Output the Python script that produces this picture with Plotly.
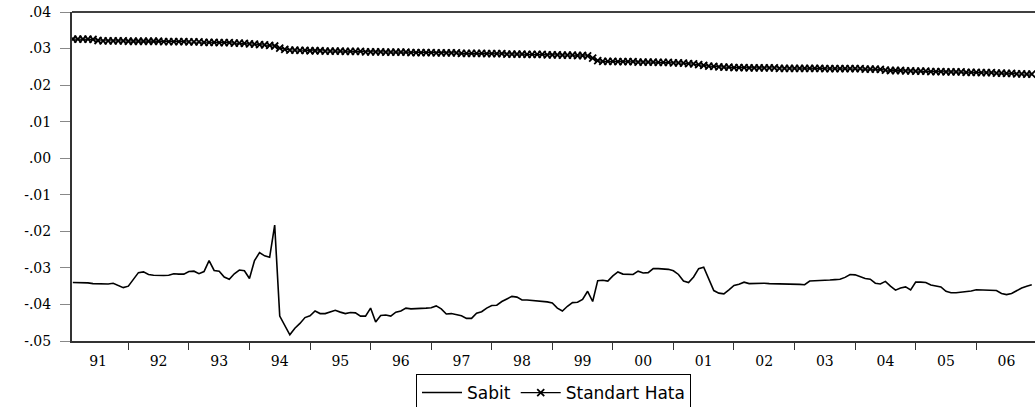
import plotly.graph_objects as go

# ---- data (monthly, 1991M2 - 2006M12) ----
years = list(range(1991, 2007))
first_month_1991 = 2

sabit_by_year = {
    1991: [-0.0340, -0.0340, -0.0340, -0.0341, -0.0343, -0.0344, -0.0345, -0.0344, -0.0342, -0.0347, -0.0354],
    1992: [-0.0350, -0.0330, -0.0313, -0.0311, -0.0318, -0.0320, -0.0321, -0.0321, -0.0320, -0.0316, -0.0317, -0.0317],
    1993: [-0.0310, -0.0309, -0.0316, -0.0310, -0.0280, -0.0307, -0.0309, -0.0325, -0.0331, -0.0316, -0.0306, -0.0308],
    1994: [-0.0329, -0.0280, -0.0258, -0.0267, -0.0271, -0.0183, -0.0432, -0.0458, -0.0483, -0.0465, -0.0452, -0.0436],
    1995: [-0.0431, -0.0418, -0.0425, -0.0425, -0.0420, -0.0416, -0.0421, -0.0425, -0.0422, -0.0423, -0.0432, -0.0432],
    1996: [-0.0410, -0.0448, -0.0430, -0.0429, -0.0432, -0.0421, -0.0418, -0.0410, -0.0412, -0.0412, -0.0412, -0.0410],
    1997: [-0.0409, -0.0404, -0.0412, -0.0426, -0.0425, -0.0428, -0.0431, -0.0438, -0.0438, -0.0424, -0.0420, -0.0410],
    1998: [-0.0403, -0.0402, -0.0392, -0.0385, -0.0378, -0.0380, -0.0388, -0.0388, -0.0389, -0.0390, -0.0391, -0.0393],
    1999: [-0.0396, -0.0410, -0.0418, -0.0405, -0.0395, -0.0394, -0.0386, -0.0364, -0.0392, -0.0335, -0.0334, -0.0336],
    2000: [-0.0322, -0.0311, -0.0317, -0.0318, -0.0318, -0.0309, -0.0314, -0.0313, -0.0302, -0.0302, -0.0302, -0.0304],
    2001: [-0.0308, -0.0318, -0.0336, -0.0340, -0.0325, -0.0302, -0.0298, -0.0330, -0.0362, -0.0369, -0.0371, -0.0360],
    2002: [-0.0348, -0.0345, -0.0339, -0.0343, -0.0342, -0.0343, -0.0342, -0.0343, -0.0343, -0.0343, -0.0343, -0.0343],
    2003: [-0.0343, -0.0345, -0.0346, -0.0336, -0.0335, -0.0335, -0.0334, -0.0333, -0.0332, -0.0331, -0.0326, -0.0318],
    2004: [-0.0319, -0.0325, -0.0329, -0.0331, -0.0342, -0.0344, -0.0337, -0.0350, -0.0361, -0.0355, -0.0352, -0.0360],
    2005: [-0.0339, -0.0339, -0.0340, -0.0347, -0.0349, -0.0352, -0.0364, -0.0368, -0.0368, -0.0367, -0.0364, -0.0363],
    2006: [-0.0360, -0.0361, -0.0361, -0.0361, -0.0362, -0.0370, -0.0373, -0.0370, -0.0362, -0.0355, -0.0350, -0.0346],
}

std_hata_by_year = {
    1991: [0.0326, 0.0326, 0.0326, 0.0326, 0.0325, 0.0322, 0.0321, 0.0321, 0.0321, 0.0321, 0.0321],
    1992: [0.0320, 0.0320, 0.0320, 0.0320, 0.0320, 0.0320, 0.0320, 0.0319, 0.0319, 0.0319, 0.0319, 0.0319],
    1993: [0.0318, 0.0318, 0.0318, 0.0317, 0.0317, 0.0317, 0.0316, 0.0316, 0.0316, 0.0315, 0.0315, 0.0314],
    1994: [0.0313, 0.0312, 0.0311, 0.0310, 0.0309, 0.0307, 0.0301, 0.0298, 0.0296, 0.0296, 0.0295, 0.0295],
    1995: [0.0294, 0.0294, 0.0294, 0.0293, 0.0293, 0.0293, 0.0293, 0.0292, 0.0292, 0.0292, 0.0292, 0.0291],
    1996: [0.0291, 0.0291, 0.0291, 0.0290, 0.0290, 0.0290, 0.0290, 0.0290, 0.0289, 0.0289, 0.0289, 0.0289],
    1997: [0.0289, 0.0288, 0.0288, 0.0288, 0.0288, 0.0288, 0.0287, 0.0287, 0.0287, 0.0287, 0.0287, 0.0286],
    1998: [0.0286, 0.0286, 0.0286, 0.0285, 0.0285, 0.0285, 0.0285, 0.0284, 0.0284, 0.0284, 0.0284, 0.0283],
    1999: [0.0283, 0.0283, 0.0282, 0.0282, 0.0282, 0.0281, 0.0281, 0.0280, 0.0274, 0.0267, 0.0265, 0.0265],
    2000: [0.0265, 0.0264, 0.0264, 0.0264, 0.0264, 0.0263, 0.0263, 0.0263, 0.0263, 0.0262, 0.0262, 0.0262],
    2001: [0.0261, 0.0261, 0.0260, 0.0259, 0.0258, 0.0256, 0.0254, 0.0252, 0.0251, 0.0250, 0.0249, 0.0249],
    2002: [0.0248, 0.0248, 0.0248, 0.0247, 0.0247, 0.0247, 0.0247, 0.0247, 0.0247, 0.0246, 0.0246, 0.0246],
    2003: [0.0246, 0.0246, 0.0246, 0.0246, 0.0246, 0.0246, 0.0245, 0.0245, 0.0245, 0.0245, 0.0245, 0.0245],
    2004: [0.0245, 0.0245, 0.0244, 0.0244, 0.0244, 0.0243, 0.0241, 0.0240, 0.0240, 0.0240, 0.0239, 0.0239],
    2005: [0.0238, 0.0238, 0.0238, 0.0237, 0.0237, 0.0237, 0.0236, 0.0236, 0.0236, 0.0236, 0.0235, 0.0235],
    2006: [0.0235, 0.0234, 0.0234, 0.0234, 0.0233, 0.0233, 0.0232, 0.0232, 0.0231, 0.0231, 0.0230, 0.0230],
}

year_labels = ["91", "92", "93", "94", "95", "96", "97", "98", "99", "00", "01", "02", "03", "04", "05", "06"]
y_tick_vals = [0.04, 0.03, 0.02, 0.01, 0.00, -0.01, -0.02, -0.03, -0.04, -0.05]
y_tick_text = [".04", ".03", ".02", ".01", ".00", "-.01", "-.02", "-.03", "-.04", "-.05"]

# ---- build time axis (decimal years) ----
t, sabit, std_hata = [], [], []
for yr in years:
    start = first_month_1991 if yr == 1991 else 1
    for i, (s, h) in enumerate(zip(sabit_by_year[yr], std_hata_by_year[yr])):
        m = start + i
        t.append(yr + (m - 1) / 12.0)
        sabit.append(s)
        std_hata.append(h)

fig = go.Figure()
fig.add_trace(go.Scatter(
    x=t, y=sabit, mode="lines", name="Sabit",
    line=dict(color="black", width=1.6),
))
fig.add_trace(go.Scatter(
    x=t, y=std_hata, mode="lines+markers", name="Standart Hata",
    line=dict(color="black", width=1.2),
    marker=dict(symbol="x-thin", size=7, line=dict(color="black", width=1.8)),
))

fig.update_layout(
    width=1035, height=407,
    margin=dict(l=72, r=0, t=12, b=66, autoexpand=False),
    paper_bgcolor="white", plot_bgcolor="white",
    showlegend=True,
    legend=dict(
        orientation="h", x=0.5, xanchor="center",
        yref="container", y=33 / 407, yanchor="top",
        bordercolor="black", borderwidth=1, bgcolor="white",
        font=dict(family="DejaVu Sans", size=17, color="black"),
        itemwidth=40, tracegroupgap=0,
    ),
    font=dict(family="DejaVu Serif", color="black"),
)

fig.update_xaxes(
    range=[1991.07, 2006.97],
    tickmode="array",
    tickvals=[y + 0.5 for y in years],
    ticktext=year_labels,
    ticks="outside", ticklen=6, tickcolor="rgba(0,0,0,0)",
    tickfont=dict(family="DejaVu Serif", size=14, color="black"),
    showline=True, linecolor="#333333", linewidth=2,
    showgrid=False, zeroline=False,
    minor=dict(tickmode="array", tickvals=years[1:], ticks="outside",
               ticklen=7, tickcolor="#333333", tickwidth=1, showgrid=False),
    automargin=False,
)
fig.update_yaxes(
    range=[-0.05, 0.04],
    tickmode="array", tickvals=y_tick_vals, ticktext=y_tick_text,
    ticks="outside", ticklen=10, tickcolor="#888888", tickwidth=1,
    ticklabelstandoff=6,
    tickfont=dict(family="DejaVu Serif", size=14, color="black"),
    showline=True, linecolor="#333333", linewidth=2,
    showgrid=False, zeroline=False,
    automargin=False,
)

# top frame line
fig.add_shape(type="line", xref="paper", yref="paper", x0=0, x1=1, y0=1, y1=1,
              line=dict(color="black", width=1.6))

fig.write_html("out.html")
